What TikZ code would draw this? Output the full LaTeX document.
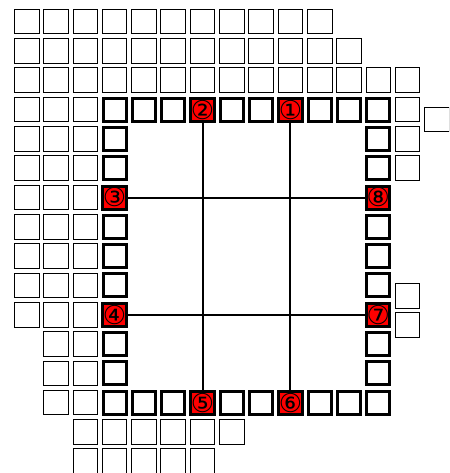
\documentclass[tikz,border=0pt]{standalone}
\usepackage{fontspec}
\newfontfamily\circfont{DejaVu Sans}
\begin{document}
\begin{tikzpicture}[x=1pt,y=-1pt,
 thinbox/.style={draw=black, line width=1pt, minimum size=24.6pt, inner sep=0pt, fill=white},
 thickbox/.style={draw=black, line width=3pt, minimum size=23pt, inner sep=0pt, fill=white},
 redbox/.style={thickbox, fill=red, font=\circfont\fontsize{26}{26}\selectfont},
 link/.style={line width=2pt}]
\useasboundingbox (0,0) rectangle (449,473);
\clip (0,0) rectangle (449,473);
\def\cx#1{26.7+29.3*#1}
\def\cy#1{21.7+29.3*#1}
% thin cells
\foreach \c in {0,...,10} \node[thinbox] (t-0-\c) at ({\cx{\c}},{\cy{0}}) {};
\foreach \c in {0,...,11} \node[thinbox] (t-1-\c) at ({\cx{\c}},{\cy{1}}) {};
\foreach \c in {0,...,13} \node[thinbox] (t-2-\c) at ({\cx{\c}},{\cy{2}}) {};
\foreach \r in {3,4,5} \foreach \c in {0,1,2,13} \node[thinbox] (t-\r-\c) at ({\cx{\c}},{\cy{\r}}) {};
\foreach \r in {6,...,10} \foreach \c in {0,1,2} \node[thinbox] (t-\r-\c) at ({\cx{\c}},{\cy{\r}}) {};
\foreach \r in {11,12,13} \foreach \c in {1,2} \node[thinbox] (t-\r-\c) at ({\cx{\c}},{\cy{\r}}) {};
\foreach \c in {2,...,7} \node[thinbox] (t-14-\c) at ({\cx{\c}},{\cy{14}}) {};
\foreach \c in {2,...,6} \node[thinbox] (t-15-\c) at ({\cx{\c}},{\cy{15}}) {};
\node[thinbox] (xa) at ({\cx{14}},119.7) {};
\node[thinbox] (xb) at ({\cx{13}},295.7) {};
\node[thinbox] (xc) at ({\cx{13}},325.2) {};
% thick ring
\foreach \r in {3,13} \foreach \c in {3,4,5,7,8,10,11,12} \node[thickbox] (k-\r-\c) at ({\cx{\c}},{\cy{\r}}) {};
\foreach \r in {4,5,7,8,9,11,12} \foreach \c in {3,12} \node[thickbox] (k-\r-\c) at ({\cx{\c}},{\cy{\r}}) {};
% red cells
\node[redbox] (n1) at ({\cx{9}},{\cy{3}}) {①};
\node[redbox] (n2) at ({\cx{6}},{\cy{3}}) {②};
\node[redbox] (n3) at ({\cx{3}},{\cy{6}}) {③};
\node[redbox] (n4) at ({\cx{3}},{\cy{10}}) {④};
\node[redbox] (n5) at ({\cx{6}},{\cy{13}}) {⑤};
\node[redbox] (n6) at ({\cx{9}},{\cy{13}}) {⑥};
\node[redbox] (n7) at ({\cx{12}},{\cy{10}}) {⑦};
\node[redbox] (n8) at ({\cx{12}},{\cy{6}}) {⑧};
% connectors
\draw[link] (n2.south) -- (n5.north);
\draw[link] (n1.south) -- (n6.north);
\draw[link] (n3.east) -- (n8.west);
\draw[link] (n4.east) -- (n7.west);
\end{tikzpicture}
\end{document}
